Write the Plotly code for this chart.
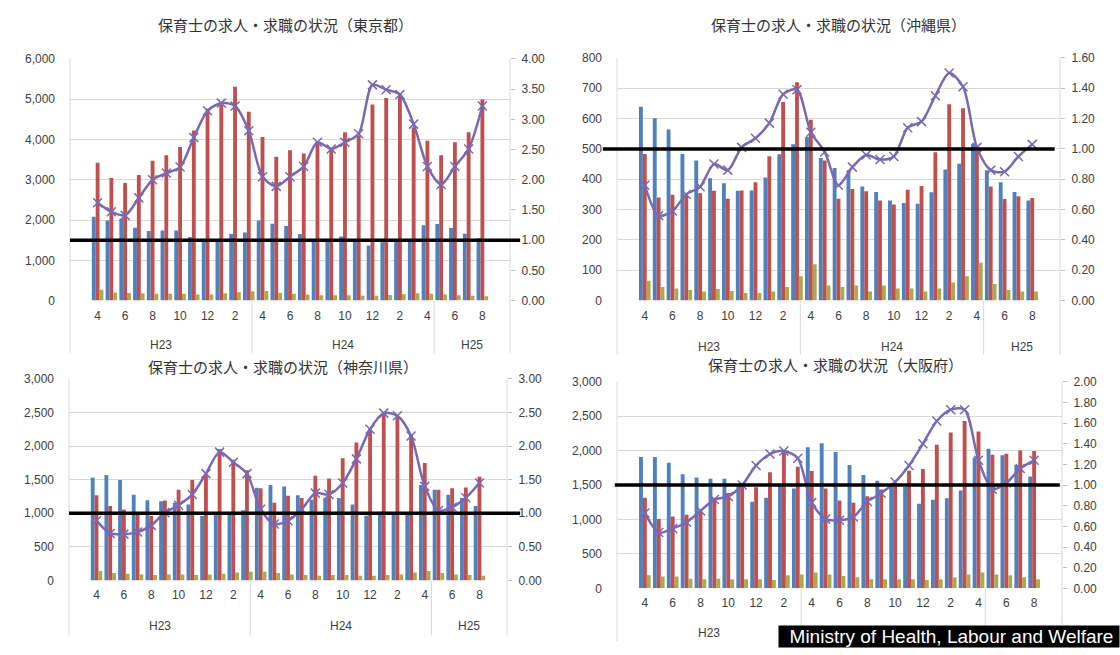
import plotly.graph_objects as go

# ---------------- data ----------------
fiscal_years = ["H23"] * 12 + ["H24"] * 12 + ["H25"] * 5
months = [4, 5, 6, 7, 8, 9, 10, 11, 12, 1, 2, 3,
          4, 5, 6, 7, 8, 9, 10, 11, 12, 1, 2, 3,
          4, 5, 6, 7, 8]
group_names = ["H23", "H24", "H25"]
tick_months = [4, 6, 8, 10, 12, 2]

# Tokyo
tokyo_blue = [2080, 1990, 2030, 1810, 1730, 1740, 1740, 1580, 1500, 1500, 1650, 1690,
              1990, 1910, 1850, 1650, 1520, 1510, 1590, 1500, 1370, 1450, 1510, 1490,
              1870, 1900, 1800, 1660, 1550]
tokyo_red = [3420, 3040, 2920, 3120, 3470, 3610, 3810, 4220, 4770, 4870, 5310, 4690,
             4060, 3570, 3730, 3650, 3930, 3770, 4180, 4100, 4870, 5030, 5130, 4300,
             3970, 3610, 3930, 4180, 4990]
tokyo_olive = [270, 200, 190, 180, 170, 170, 170, 150, 150, 180, 210, 230,
               240, 190, 170, 150, 130, 130, 130, 120, 120, 140, 160, 180,
               170, 150, 130, 120, 110]
tokyo_ratio = [1.62, 1.47, 1.41, 1.70, 2.00, 2.11, 2.21, 2.70, 3.14, 3.27, 3.22, 2.81,
               2.05, 1.89, 2.05, 2.22, 2.62, 2.51, 2.62, 2.76, 3.57, 3.49, 3.41, 2.92,
               2.22, 1.92, 2.22, 2.51, 3.22]

# Okinawa
okinawa_blue = [639, 601, 564, 483, 462, 403, 387, 362, 363, 406, 482, 515,
                539, 470, 437, 430, 376, 358, 330, 322, 319, 357, 432, 451,
                516, 430, 390, 358, 330]
okinawa_red = [483, 340, 349, 346, 354, 362, 336, 363, 390, 476, 655, 720,
               596, 462, 336, 368, 360, 330, 317, 365, 378, 489, 647, 634,
               494, 376, 335, 344, 338]
okinawa_olive = [65, 45, 40, 35, 30, 38, 32, 25, 25, 30, 45, 80,
                 120, 50, 45, 50, 30, 50, 40, 40, 30, 40, 60, 80,
                 125, 55, 35, 30, 30]
okinawa_ratio = [0.76, 0.56, 0.59, 0.70, 0.75, 0.90, 0.86, 1.01, 1.07, 1.17, 1.36, 1.39,
                 1.11, 0.98, 0.76, 0.88, 0.96, 0.93, 0.95, 1.14, 1.18, 1.35, 1.50, 1.41,
                 1.01, 0.86, 0.85, 0.95, 1.03]

# Kanagawa
kanagawa_blue = [1530, 1570, 1495, 1277, 1194, 1180, 1155, 1131, 960, 1020, 1000, 1045,
                 1380, 1422, 1398, 1267, 1200, 1228, 1228, 1131, 965, 990, 990, 990,
                 1422, 1350, 1277, 1228, 1107]
kanagawa_red = [1267, 1107, 1058, 995, 961, 1189, 1350, 1495, 1568, 1956, 1796, 1641,
                1374, 1155, 1262, 1228, 1558, 1519, 1820, 2053, 2248, 2490, 2442, 2175,
                1748, 1350, 1374, 1383, 1544]
kanagawa_olive = [140, 110, 100, 90, 80, 90, 90, 80, 90, 100, 120, 130,
                  130, 110, 90, 80, 70, 80, 80, 70, 70, 80, 90, 120,
                  140, 110, 90, 80, 70]
kanagawa_ratio = [0.89, 0.70, 0.69, 0.72, 0.82, 1.01, 1.12, 1.28, 1.59, 1.91, 1.76, 1.59,
                  1.06, 0.84, 0.89, 1.06, 1.30, 1.28, 1.45, 1.81, 2.25, 2.49, 2.45, 2.15,
                  1.40, 1.04, 1.09, 1.23, 1.45]

# Osaka
osaka_blue = [1909, 1909, 1823, 1657, 1610, 1591, 1591, 1481, 1258, 1315, 1500, 1450,
              2050, 2108, 1980, 1790, 1647, 1562, 1480, 1470, 1230, 1285, 1310, 1420,
              1900, 2027, 1932, 1790, 1623]
osaka_red = [1315, 1006, 1044, 1068, 1115, 1315, 1386, 1481, 1467, 1685, 1989, 1766,
             1704, 1450, 1277, 1244, 1339, 1434, 1505, 1709, 1733, 2084, 2264, 2430,
             2279, 1942, 1956, 2003, 1994]
osaka_olive = [190, 170, 170, 140, 130, 140, 130, 130, 130, 120, 190, 200,
               230, 200, 180, 160, 130, 130, 130, 130, 120, 130, 160, 200,
               230, 200, 190, 160, 130]
osaka_ratio = [0.73, 0.54, 0.58, 0.64, 0.75, 0.86, 0.89, 1.00, 1.19, 1.30, 1.33, 1.26,
               0.83, 0.67, 0.66, 0.69, 0.84, 0.92, 1.03, 1.19, 1.40, 1.62, 1.73, 1.73,
               1.24, 0.96, 1.02, 1.16, 1.24]

titles = ["保育士の求人・求職の状況（東京都）", "保育士の求人・求職の状況（沖縄県）",
          "保育士の求人・求職の状況（神奈川県）", "保育士の求人・求職の状況（大阪府）"]
source_text = "Ministry of Health, Labour and Welfare"

# ---------------- style / layout ----------------
W, H = 1120, 655
BLUE, RED, OLIVE, PURPLE = "#4F81BD", "#C0504D", "#ADA84E", "#7A68B5"
GRID = "#d9d9d9"
TXT = "#404040"
TICKFONT = dict(family="Liberation Sans, Arial, sans-serif", size=12, color=TXT)


def fx(p):
    return p / W


def fy(p):
    return 1 - p / H


categories = [f"{fyr}-{m}" for fyr, m in zip(fiscal_years, months)]
tickvals = [c for c, m in zip(categories, months) if m in tick_months]
ticktext = [str(m) for m in months if m in tick_months]

panels = [
    dict(blue=tokyo_blue, red=tokyo_red, olive=tokyo_olive, ratio=tokyo_ratio,
         ymax=6000, ydt=1000, rmax=4.0, rdt=0.5, box=(70, 510, 53, 300),
         title_xy=(285, 18), grp_y=345, sep_bot=354, hline=(0.0, 1.023)),
    dict(blue=okinawa_blue, red=okinawa_red, olive=okinawa_olive, ratio=okinawa_ratio,
         ymax=800, ydt=100, rmax=1.6, rdt=0.2, box=(617, 1060, 52, 300),
         title_xy=(838, 18), grp_y=347, sep_bot=355, hline=(-0.032, 0.988)),
    dict(blue=kanagawa_blue, red=kanagawa_red, olive=kanagawa_olive, ratio=kanagawa_ratio,
         ymax=3000, ydt=500, rmax=3.0, rdt=0.5, box=(69, 507, 380, 586),
         title_xy=(283, 367), grp_y=633, sep_bot=642, hline=(0.0, 1.03)),
    dict(blue=osaka_blue, red=osaka_red, olive=osaka_olive, ratio=osaka_ratio,
         ymax=3000, ydt=500, rmax=2.0, rdt=0.2, box=(617, 1062, 383, 594),
         title_xy=(835, 365), grp_y=640, sep_bot=648, hline=(-0.005, 0.995)),
]

fig = go.Figure()
layout = dict(width=W, height=H, margin=dict(l=0, r=0, t=0, b=0),
              paper_bgcolor="white", plot_bgcolor="white",
              barmode="group", bargap=0.16, bargroupgap=0.0,
              showlegend=False)
shapes, annotations = [], []

n = len(categories)
sizes = [fiscal_years.count(g) for g in group_names]

for k, p in enumerate(panels):
    xi = "" if k == 0 else str(k + 1)
    yl = "" if k == 0 else str(2 * k + 1)
    yr = str(2 * k + 2)
    xname, ylname, yrname = "x" + xi, "y" + yl, "y" + yr
    x0p, x1p, y0p, y1p = p["box"]

    for vals, col in ((p["blue"], BLUE), (p["red"], RED), (p["olive"], OLIVE)):
        fig.add_trace(go.Bar(x=categories, y=vals, marker=dict(color=col, line=dict(width=0)),
                             xaxis=xname, yaxis=ylname))
    fig.add_trace(go.Scatter(x=categories, y=p["ratio"], mode="lines+markers",
                             line=dict(color=PURPLE, width=2.5, shape="spline", smoothing=0.8),
                             marker=dict(symbol="x-thin", size=9, line=dict(width=1.5, color=PURPLE)),
                             xaxis=xname, yaxis=yrname))

    layout["xaxis" + xi] = dict(domain=[fx(x0p), fx(x1p)], anchor=ylname,
                                type="category", categoryorder="array", categoryarray=categories,
                                tickvals=tickvals, ticktext=ticktext, tickangle=0,
                                tickfont=TICKFONT, showgrid=False, zeroline=False,
                                showline=False, ticks="", ticklabelstandoff=6)
    layout["yaxis" + yl] = dict(domain=[fy(y1p), fy(y0p)], anchor=xname,
                                range=[0, p["ymax"]], dtick=p["ydt"], tick0=0,
                                tickformat=",d", tickfont=TICKFONT,
                                showgrid=True, gridcolor=GRID, gridwidth=1,
                                zeroline=False, showline=False, ticks="",
                                ticklabelstandoff=14)
    layout["yaxis" + yr] = dict(overlaying=ylname, anchor=xname, side="right",
                                range=[0, p["rmax"]], dtick=p["rdt"], tick0=0,
                                tickformat=".2f", tickfont=TICKFONT,
                                showgrid=False, zeroline=False, showline=False,
                                ticks="outside", ticklen=4, tickcolor="#bfbfbf",
                                ticklabelstandoff=4)

    # plot-area side borders and multi-level category separators
    for xd in (0.0, 1.0):
        shapes.append(dict(type="line", xref=xname + " domain", yref="paper",
                           x0=xd, x1=xd, y0=fy(y0p), y1=fy(p["sep_bot"]),
                           line=dict(color=GRID, width=1)))
    cum = 0
    for s in sizes[:-1]:
        cum += s
        xd = cum / n
        shapes.append(dict(type="line", xref=xname + " domain", yref="paper",
                           x0=xd, x1=xd, y0=fy(y1p), y1=fy(p["sep_bot"]),
                           line=dict(color=GRID, width=1)))
    # group labels
    cum = 0
    for g, s in zip(group_names, sizes):
        annotations.append(dict(text=g, xref=xname + " domain", yref="paper",
                                x=(cum + s / 2) / n, y=fy(p["grp_y"]),
                                showarrow=False, font=TICKFONT,
                                xanchor="center", yanchor="middle"))
        cum += s
    # ratio = 1.00 reference line
    shapes.append(dict(type="line", xref=xname + " domain", yref=yrname,
                       x0=p["hline"][0], x1=p["hline"][1], y0=1.0, y1=1.0,
                       line=dict(color="black", width=3.5), layer="above"))
    # title
    annotations.append(dict(text=titles[k], xref="paper", yref="paper",
                            x=fx(p["title_xy"][0]), y=fy(p["title_xy"][1]),
                            showarrow=False, xanchor="center", yanchor="middle",
                            font=dict(family="Noto Sans CJK JP", size=15, color="#333333")))

annotations.append(dict(text="&nbsp;&nbsp;" + source_text + "&nbsp;", xref="paper", yref="paper",
                        x=1.0, y=0.0, xanchor="right", yanchor="bottom", showarrow=False,
                        bgcolor="black", borderpad=0,
                        font=dict(family="Liberation Sans, Arial, sans-serif", size=19, color="white")))

layout["shapes"] = shapes
layout["annotations"] = annotations
fig.update_layout(**layout)
fig.write_html("out.html")
